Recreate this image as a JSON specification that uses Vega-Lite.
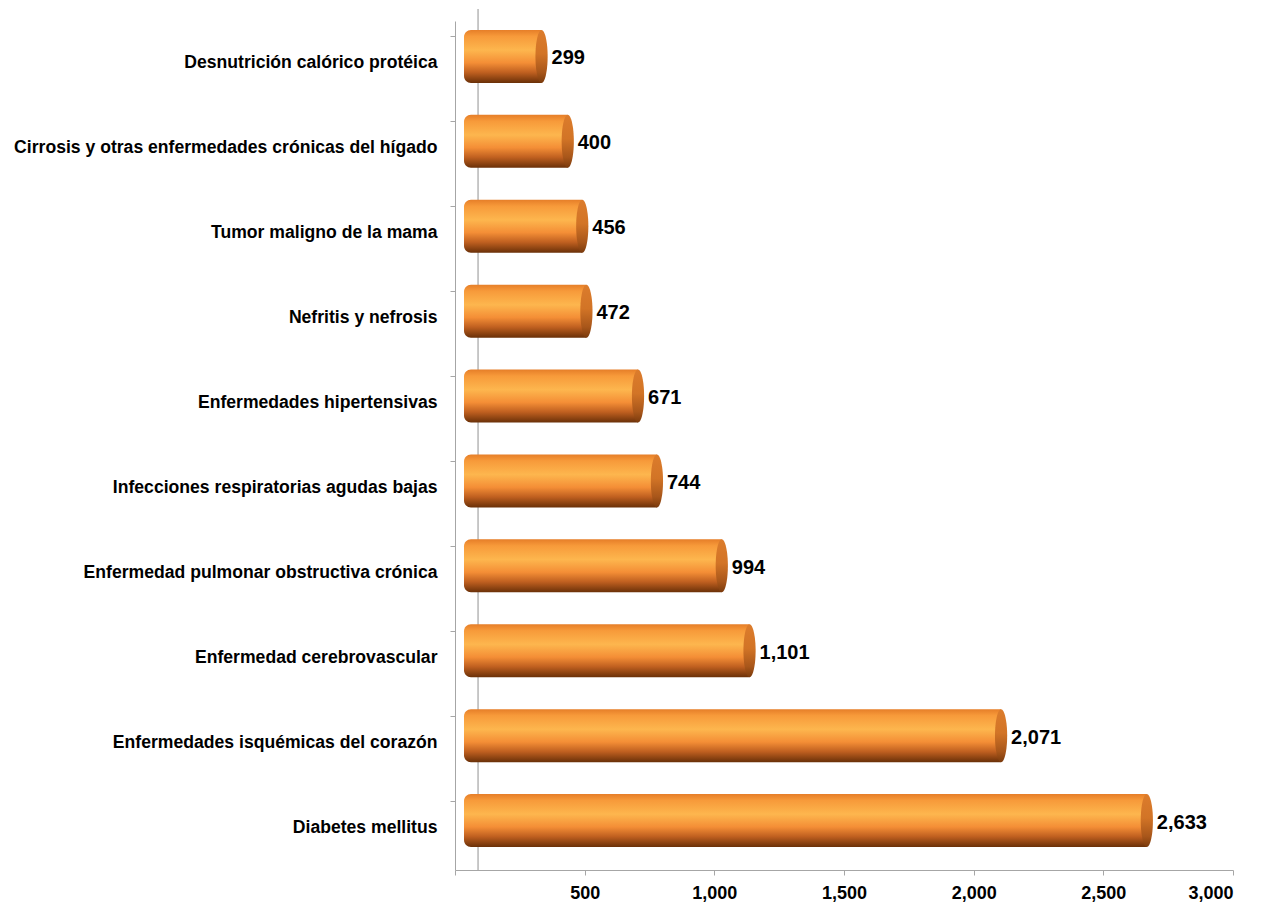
{
  "$schema": "https://vega.github.io/schema/vega-lite/v6.json",
  "width": 778,
  "height": 849,
  "autosize": {"type": "none"},
  "padding": {"left": 455, "top": 21, "right": 31, "bottom": 35},
  "background": "white",
  "config": {"view": {"stroke": null}, "font": "Liberation Sans"},
  "data": {
    "values": [
      {"causa": "Desnutrición calórico protéica", "defunciones": 299},
      {"causa": "Cirrosis y otras enfermedades crónicas del hígado", "defunciones": 400},
      {"causa": "Tumor maligno de la mama", "defunciones": 456},
      {"causa": "Nefritis y nefrosis", "defunciones": 472},
      {"causa": "Enfermedades hipertensivas", "defunciones": 671},
      {"causa": "Infecciones respiratorias agudas bajas", "defunciones": 744},
      {"causa": "Enfermedad pulmonar obstructiva crónica", "defunciones": 994},
      {"causa": "Enfermedad cerebrovascular", "defunciones": 1101},
      {"causa": "Enfermedades isquémicas del corazón", "defunciones": 2071},
      {"causa": "Diabetes mellitus", "defunciones": 2633}
    ]
  },
  "layer": [
    {
      "mark": {"type": "rule", "color": "#c4c4c4", "strokeWidth": 1, "yOffset": -12},
      "encoding": {"x": {"datum": 90, "type": "quantitative"}}
    },
    {
      "mark": {
        "type": "bar",
        "xOffset": 9,
        "x2Offset": 9,
        "yOffset": -7,
        "cornerRadiusTopLeft": 7,
        "cornerRadiusBottomLeft": 7,
        "color": {
          "gradient": "linear",
          "x1": 0, "y1": 0, "x2": 0, "y2": 1,
          "stops": [
            {"offset": 0, "color": "#e67e28"},
            {"offset": 0.12, "color": "#f79a3a"},
            {"offset": 0.38, "color": "#fdb64e"},
            {"offset": 0.62, "color": "#f48e36"},
            {"offset": 0.8, "color": "#c06020"},
            {"offset": 1, "color": "#6a3008"}
          ]
        }
      },
      "encoding": {
        "y": {
          "field": "causa",
          "type": "nominal",
          "sort": {"field": "defunciones", "order": "ascending"},
          "scale": {"paddingInner": 0.376, "paddingOuter": 0.188},
          "axis": {
            "title": null,
            "bandPosition": 0,
            "domainColor": "#a6a6a6",
            "tickColor": "#a6a6a6",
            "tickSize": 5,
            "labelPadding": 13,
            "labelFont": "Liberation Sans",
            "labelFontWeight": "bold",
            "labelFontSize": 17.6,
            "labelColor": "#000000",
            "labelLimit": 500
          }
        },
        "x": {
          "field": "defunciones",
          "type": "quantitative",
          "stack": null,
          "scale": {"domain": [0, 3000], "nice": false},
          "axis": {
            "title": null,
            "values": [0, 500, 1000, 1500, 2000, 2500, 3000],
            "grid": false,
            "domainColor": "#a6a6a6",
            "tickColor": "#a6a6a6",
            "tickSize": 5,
            "labelPadding": 9,
            "labelFont": "Liberation Sans",
            "labelFontWeight": "bold",
            "labelFontSize": 18,
            "labelColor": "#000000",
            "labelExpr": "datum.value == 0 ? '' : format(datum.value, ',')"
          }
        },
        "x2": {"datum": 0}
      }
    },
    {
      "mark": {
        "type": "point",
        "filled": true,
        "opacity": 1,
        "strokeWidth": 0,
        "xOffset": 9,
        "yOffset": -7,
        "size": 2809,
        "shape": "M0,-1A0.23,1,0,1,1,0,1A0.23,1,0,1,1,0,-1Z",
        "color": {
          "gradient": "linear",
          "x1": 0, "y1": 0, "x2": 0, "y2": 1,
          "stops": [
            {"offset": 0, "color": "#dc7c2c"},
            {"offset": 0.45, "color": "#d27426"},
            {"offset": 0.8, "color": "#a8561a"},
            {"offset": 1, "color": "#7a3a0c"}
          ]
        }
      },
      "encoding": {
        "y": {"field": "causa", "type": "nominal", "sort": {"field": "defunciones", "order": "ascending"}},
        "x": {"field": "defunciones", "type": "quantitative"}
      }
    },
    {
      "mark": {
        "type": "text",
        "align": "left",
        "baseline": "middle",
        "dx": 19,
        "dy": -5,
        "font": "Liberation Sans",
        "fontWeight": "bold",
        "fontSize": 20,
        "color": "#000000"
      },
      "encoding": {
        "y": {"field": "causa", "type": "nominal", "sort": {"field": "defunciones", "order": "ascending"}},
        "x": {"field": "defunciones", "type": "quantitative"},
        "text": {"field": "defunciones", "type": "quantitative", "format": ","}
      }
    }
  ]
}
